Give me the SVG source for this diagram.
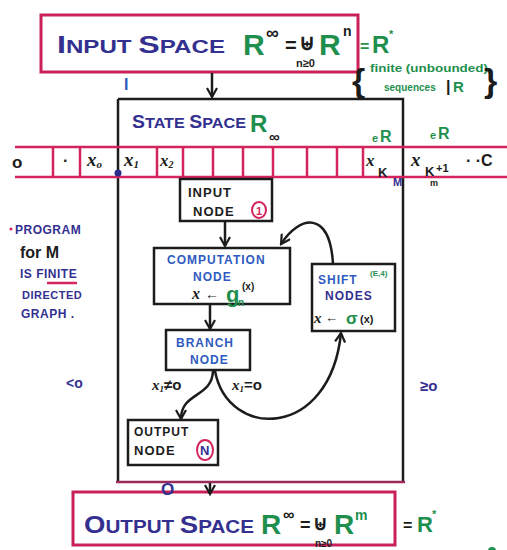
<svg xmlns="http://www.w3.org/2000/svg" width="507" height="550" viewBox="0 0 507 550">
<defs>
<style>
.hand{font-family:"Liberation Sans",Arial,sans-serif;font-weight:bold}
.ink{fill:#1c1c1c}
.pur{fill:#33308f}
.blu{fill:#2f5bc0}
.grn{fill:#1f8f4e}
.red{fill:#d3245c}
.box{fill:none;stroke:#1c1c1c;stroke-width:2.5}
.pbox{fill:none;stroke:#c9205a;stroke-width:3}
.tape{stroke:#d3245c;stroke-width:2.5}
.conn{fill:none;stroke:#1c1c1c;stroke-width:2.5}
.it{font-family:"Liberation Serif",serif;font-style:italic;font-weight:bold}
</style>
<marker id="ah" viewBox="0 0 12 12" refX="10" refY="6" markerWidth="12" markerHeight="12" markerUnits="userSpaceOnUse" orient="auto">
<path d="M1,1 L10,6 L1,11" fill="none" stroke="#1c1c1c" stroke-width="2.2"/>
</marker>
</defs>
<rect width="507" height="550" fill="#ffffff"/>

<g id="input-space">
<rect class="pbox" x="41" y="15" width="317" height="57"/>
<text class="hand pur" x="57" y="53" font-size="18" textLength="168" lengthAdjust="spacingAndGlyphs"><tspan font-size="24">I</tspan>NPUT <tspan font-size="24">S</tspan>PACE</text>
<text class="hand grn" x="243" y="55" font-size="30">R</text>
<text class="hand ink" x="266" y="39" font-size="18">∞</text>
<text class="hand ink" x="285" y="52" font-size="20">=</text>
<text class="hand ink" x="299" y="50" font-size="22">⊎</text>
<text class="hand ink" x="296" y="67" font-size="11">n≥0</text>
<text class="hand grn" x="319" y="55" font-size="30">R</text>
<text class="hand ink" x="343" y="36" font-size="14">n</text>
<text class="hand grn" x="360" y="52" font-size="16">=</text>
<text class="hand grn" x="372" y="53" font-size="24">R</text>
<text class="hand grn" x="389" y="38" font-size="11">*</text>
<text class="hand ink" x="352" y="92" font-size="34" font-weight="normal">{</text>
<text class="hand grn" x="370" y="72" font-size="10" font-weight="normal" textLength="118" lengthAdjust="spacingAndGlyphs">finite (unbounded)</text>
<text class="hand grn" x="384" y="91" font-size="10" font-weight="normal">sequences</text>
<text class="hand ink" x="446" y="92" font-size="16" font-weight="normal">|</text>
<text class="hand grn" x="453" y="92" font-size="15" font-weight="normal">R</text>
<text class="hand ink" x="484" y="92" font-size="34" font-weight="normal">}</text>
<text class="hand blu" x="124" y="90" font-size="16">I</text>
</g>

<g id="state-space">
<path class="box" d="M118,99 H403 V482 M118,99 V482"/>
<path d="M116,482 H405" stroke="#9a2a5a" stroke-width="2.5"/>
<text class="hand pur" x="132" y="128" font-size="15" textLength="114" lengthAdjust="spacingAndGlyphs"><tspan font-size="18">S</tspan>TATE <tspan font-size="18">S</tspan>PACE</text>
<text class="hand grn" x="250" y="132" font-size="24">R</text>
<text class="hand ink" x="269" y="142" font-size="15">∞</text>
<text class="hand grn" x="372" y="142" font-size="11" font-weight="normal">e</text>
<text class="hand grn" x="380" y="142" font-size="16" font-weight="normal">R</text>
<text class="hand grn" x="430" y="139" font-size="11" font-weight="normal">e</text>
<text class="hand grn" x="438" y="139" font-size="16" font-weight="normal">R</text>
</g>

<g id="tape">
<line class="tape" x1="15" y1="147" x2="507" y2="147"/>
<line class="tape" x1="15" y1="177" x2="507" y2="177"/>
<path class="tape" d="M53,147V177 M80,147V177 M157,147V177 M183,147V177 M213,147V177 M243,147V177 M273,147V177 M307,147V177 M337,147V177 M363,147V177"/>
<text class="hand ink" x="12" y="168" font-size="17">o</text>
<text class="hand ink" x="63" y="166" font-size="16">·</text>
<text class="it ink" x="87" y="166" font-size="19">x<tspan font-size="11" dy="2">o</tspan></text>
<text class="it ink" x="124" y="166" font-size="19">x<tspan font-size="11" dy="2">1</tspan></text>
<text class="it ink" x="160" y="166" font-size="17">x<tspan font-size="10" dy="2">2</tspan></text>
<text class="it ink" x="366" y="166" font-size="17">x</text>
<text class="hand ink" x="378" y="177" font-size="13">K</text>
<text class="hand pur" x="393" y="186" font-size="11">M</text>
<text class="it ink" x="411" y="166" font-size="19">x</text>
<text class="hand ink" x="425" y="176" font-size="13">K</text>
<text class="hand ink" x="436" y="172" font-size="11">+1</text>
<text class="hand ink" x="430" y="186" font-size="9">m</text>
<text class="hand ink" x="466" y="166" font-size="16">· ·C</text>
<circle cx="118" cy="173" r="3.5" fill="#2c2a8a"/>
</g>

<g id="input-node">
<rect class="box" x="180" y="179" width="92" height="42"/>
<text class="hand ink" x="188" y="197" font-size="13" letter-spacing="1">INPUT</text>
<text class="hand ink" x="193" y="216" font-size="13" letter-spacing="1">NODE</text>
<ellipse cx="259" cy="210" rx="7" ry="8" fill="none" stroke="#d3245c" stroke-width="2"/>
<text class="hand red" x="256" y="215" font-size="11">1</text>
</g>

<g id="computation-node">
<rect class="box" x="154" y="248" width="136" height="56"/>
<text class="hand blu" x="167" y="264" font-size="12" letter-spacing="1">COMPUTATION</text>
<text class="hand blu" x="193" y="281" font-size="12" letter-spacing="1">NODE</text>
<text class="it ink" x="192" y="299" font-size="16">x</text>
<text class="hand ink" x="205" y="299" font-size="14">←</text>
<text class="hand grn" x="226" y="302" font-size="22">g</text>
<text class="hand grn" x="238" y="306" font-size="10">n</text>
<text class="hand ink" x="242" y="290" font-size="10">(x)</text>
</g>

<g id="shift-nodes">
<rect class="box" x="312" y="264" width="83" height="67"/>
<text class="hand blu" x="318" y="284" font-size="12" letter-spacing="1">SHIFT</text>
<text class="hand grn" x="370" y="276" font-size="8">(E,4)</text>
<text class="hand pur" x="325" y="300" font-size="12" letter-spacing="1">NODES</text>
<text class="it ink" x="314" y="323" font-size="15">x</text>
<text class="hand ink" x="325" y="322" font-size="13">←</text>
<text class="hand grn" x="346" y="324" font-size="17" font-weight="normal">σ</text>
<text class="hand ink" x="360" y="323" font-size="11">(x)</text>
</g>

<g id="branch-node">
<rect class="box" x="166" y="330" width="84" height="40"/>
<text class="hand blu" x="176" y="347" font-size="12" letter-spacing="1">BRANCH</text>
<text class="hand blu" x="190" y="364" font-size="12" letter-spacing="1">NODE</text>
</g>

<g id="output-node">
<rect class="box" x="128" y="420" width="90" height="45"/>
<text class="hand ink" x="134" y="436" font-size="12" letter-spacing="1">OUTPUT</text>
<text class="hand ink" x="134" y="455" font-size="13" letter-spacing="1">NODE</text>
<ellipse cx="205" cy="450" rx="8" ry="10" fill="none" stroke="#d3245c" stroke-width="2"/>
<text class="hand pur" x="200" y="455" font-size="13">N</text>
</g>

<g id="output-space">
<rect class="pbox" x="73" y="492" width="322" height="53"/>
<text class="hand pur" x="84" y="533" font-size="18" textLength="170" lengthAdjust="spacingAndGlyphs"><tspan font-size="24">O</tspan>UTPUT <tspan font-size="24">S</tspan>PACE</text>
<text class="hand grn" x="261" y="534" font-size="28">R</text>
<text class="hand ink" x="283" y="520" font-size="16">∞</text>
<text class="hand ink" x="300" y="531" font-size="18">=</text>
<text class="hand ink" x="313" y="530" font-size="20">⊎</text>
<text class="hand ink" x="315" y="547" font-size="10">n≥0</text>
<text class="hand grn" x="334" y="534" font-size="28">R</text>
<text class="hand grn" x="355" y="520" font-size="14">m</text>
<text class="hand ink" x="403" y="531" font-size="16">=</text>
<text class="hand grn" x="417" y="532" font-size="22">R</text>
<text class="hand grn" x="432" y="518" font-size="11">*</text>
<text class="hand pur" x="161" y="495" font-size="17">O</text>
<circle cx="492" cy="551" r="4" fill="#1f8f4e"/>
</g>

<g id="side-notes">
<circle cx="11" cy="229" r="1.5" fill="#d3245c"/>
<text class="hand pur" x="15" y="234" font-size="12" letter-spacing="0.5">PROGRAM</text>
<text class="hand ink" x="20" y="258" font-size="16">for M</text>
<text class="hand pur" x="20" y="278" font-size="12" letter-spacing="0.5">IS FINITE</text>
<line x1="47" y1="283" x2="77" y2="283" stroke="#d3245c" stroke-width="2.5"/>
<text class="hand pur" x="22" y="299" font-size="11" letter-spacing="0.5">DIRECTED</text>
<text class="hand pur" x="21" y="318" font-size="12" letter-spacing="0.5">GRAPH .</text>
<text class="hand pur" x="66" y="388" font-size="14">&lt;o</text>
<text class="hand pur" x="420" y="391" font-size="15">≥o</text>
</g>

<g id="connectors">
<path class="conn" d="M212,73 V97" marker-end="url(#ah)"/>
<path class="conn" d="M225,221 V246" marker-end="url(#ah)"/>
<path class="conn" d="M210,305 V329" marker-end="url(#ah)"/>
<path class="conn" d="M333,264 C330,210 300,215 281,244" marker-end="url(#ah)"/>
<path class="conn" d="M213,371 C212,398 181,392 181,419" marker-end="url(#ah)"/>
<path class="conn" d="M215,371 C228,440 330,440 341,333" marker-end="url(#ah)"/>
<path class="conn" d="M210,483 V494" marker-end="url(#ah)"/>
<text class="it ink" x="152" y="390" font-size="15">x<tspan font-size="9" dy="2">1</tspan><tspan dy="-2" font-family="Liberation Sans" font-style="normal">≠o</tspan></text>
<text class="it ink" x="232" y="390" font-size="15">x<tspan font-size="9" dy="2">1</tspan><tspan dy="-2" font-family="Liberation Sans" font-style="normal">=o</tspan></text>
</g>
</svg>
